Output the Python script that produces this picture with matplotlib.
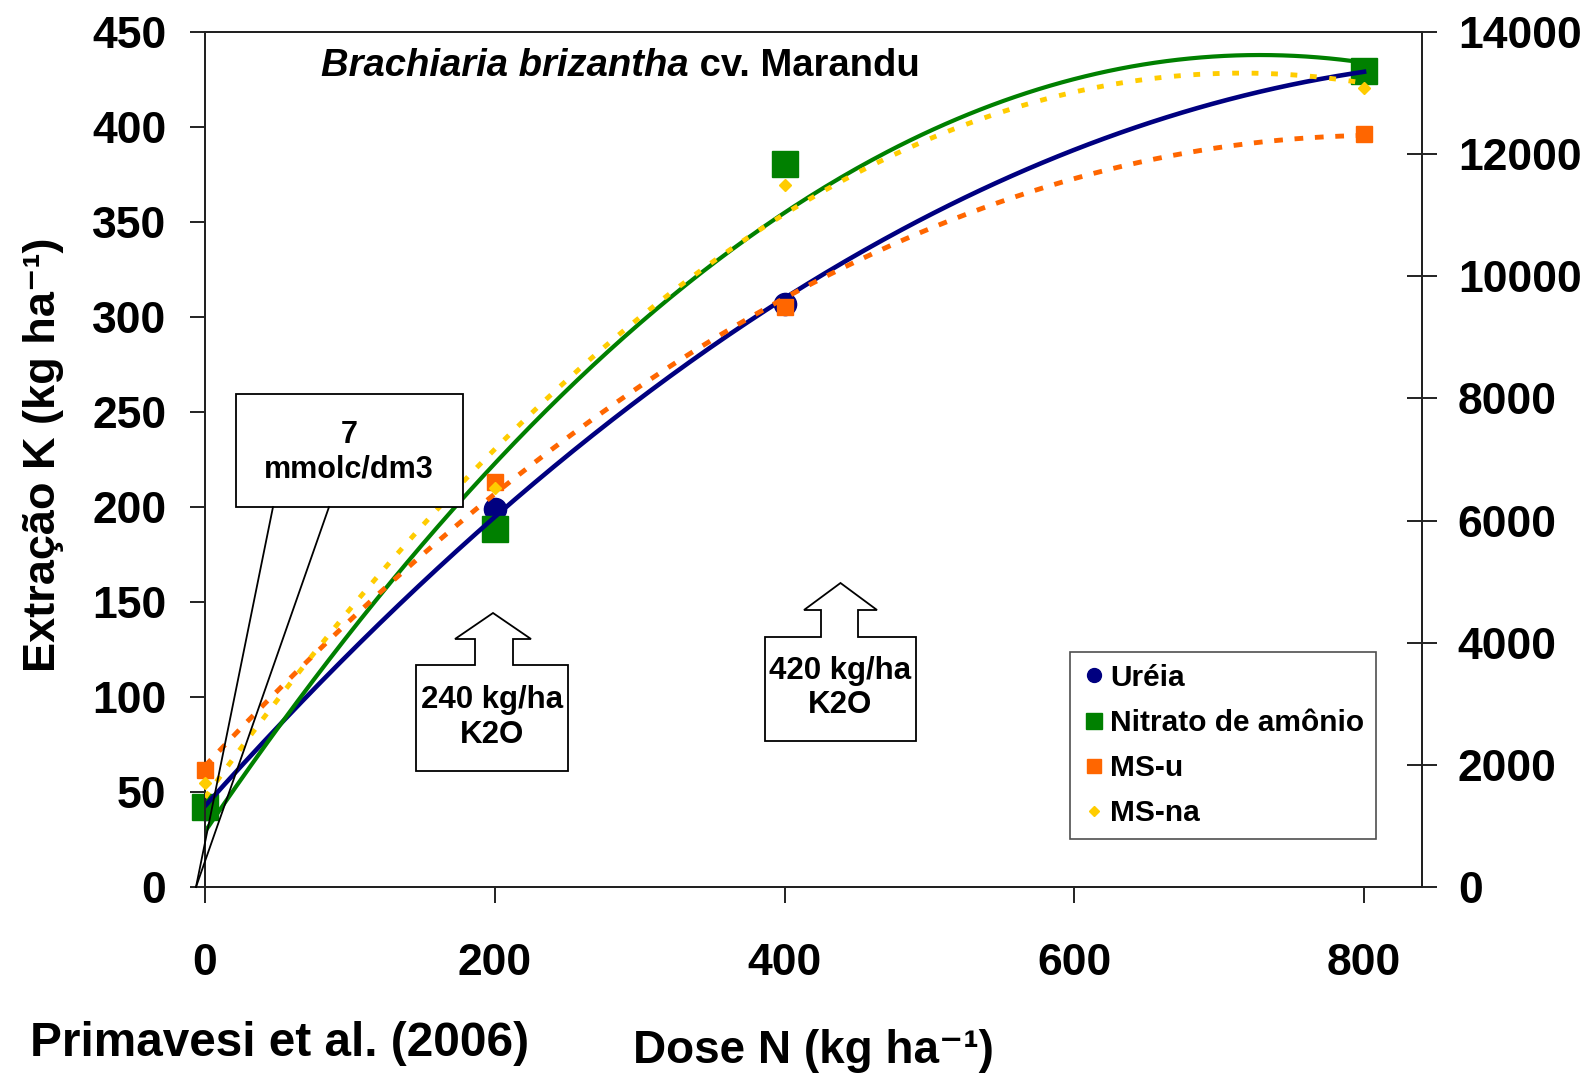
import numpy as np
import matplotlib
matplotlib.use("Agg")
import matplotlib.pyplot as plt
from matplotlib.lines import Line2D
from matplotlib.patches import Polygon

# ---------------- data ----------------
dose = [0, 200, 400, 800]
ureia = [41, 199, 306.7, 429.6]          # Extração K (kg/ha) - left axis
nitrato = [42, 188.6, 380.6, 429.6]      # Extração K (kg/ha) - left axis
ms_u = [1908, 6631, 9497, 12330]         # MS (kg/ha) - right axis
ms_na = [1703, 6533, 11495, 13083]       # MS (kg/ha) - right axis

xticks = [0, 200, 400, 600, 800]
yticks_left = [0, 50, 100, 150, 200, 250, 300, 350, 400, 450]
yticks_right = [0, 2000, 4000, 6000, 8000, 10000, 12000, 14000]

series_names = ["Uréia", "Nitrato de amônio", "MS-u", "MS-na"]

# ---------------- style ----------------
W, H = 1585, 1074
plt.rcParams['font.family'] = ['Liberation Sans', 'DejaVu Sans']
plt.rcParams['font.weight'] = 'bold'

c_blue = '#000080'
c_green = '#008000'
c_orange = '#FF6600'
c_yellow = '#FFCC00'
c_axis = '#222222'

fig = plt.figure(figsize=(W / 100, H / 100), dpi=100)
L, R, T, B = 205, 1422, 32, 887
ax = fig.add_axes([L / W, 1 - B / H, (R - L) / W, (B - T) / H])
ax2 = ax.twinx()


def px(x, y):
    return (x / W, 1 - y / H)


# trendlines (2nd order polynomial fits, as in the source)
xs = np.linspace(0, 800, 300)

ax.plot(dose, ureia, 'o', color=c_blue, markersize=16, zorder=3, clip_on=False)
ax.plot(dose, nitrato, 's', color=c_green, markersize=19, zorder=3, clip_on=False)
ax.plot(xs, np.polyval(np.polyfit(dose, ureia, 2), xs), '-', color=c_blue, lw=3.3, zorder=4)
ax.plot(xs, np.polyval(np.polyfit(dose, nitrato, 2), xs), '-', color=c_green, lw=3.0, zorder=4)

ax2.plot(dose, ms_u, 's', color=c_orange, markersize=12, zorder=3, clip_on=False)
ax2.plot(dose, ms_na, 'D', color=c_yellow, markersize=6.5, zorder=3, clip_on=False)
ax2.plot(xs, np.polyval(np.polyfit(dose, ms_u, 2), xs), color=c_orange, lw=3.5,
         linestyle=(0, (1.8, 2.4)), zorder=4)
ax2.plot(xs, np.polyval(np.polyfit(dose, ms_na, 2), xs), color=c_yellow, lw=3.5,
         linestyle=(0, (1.4, 2.6)), zorder=4)

ax.set_xlim(0, 840)
ax.set_ylim(0, 450)
ax2.set_ylim(0, 14000)

ax.set_xticks(xticks)
ax.set_yticks(yticks_left)
ax2.set_yticks(yticks_right)
ax.set_xticklabels([str(v) for v in xticks])
ax.set_yticklabels([str(v) for v in yticks_left])
ax2.set_yticklabels([str(v) for v in yticks_right])

for a in (ax, ax2):
    for s in a.spines.values():
        s.set_linewidth(1.4)
        s.set_color(c_axis)

ax.tick_params(axis='y', direction='out', length=10.8, width=1.4, color=c_axis,
               labelsize=32, pad=17)
ax.tick_params(axis='x', direction='out', length=11.5, width=1.4, color=c_axis,
               labelsize=32, pad=29)
ax2.tick_params(axis='y', direction='inout', length=21.6, width=1.4, color=c_axis,
                labelsize=32, pad=15)
for lab in ax.get_xticklabels() + ax.get_yticklabels() + ax2.get_yticklabels():
    lab.set_fontweight('bold')

ax.set_xlabel("Dose N (kg ha\u207b\u00b9)", fontsize=33, fontweight='bold')
ax.xaxis.set_label_coords(0.5, (B - 1051) / (B - T))
ax.xaxis.label.set_va('center')
ax.set_ylabel("Extração K (kg ha\u207b\u00b9)", fontsize=32.5, fontweight='bold')
ax.yaxis.set_label_coords((44 - L) / (R - L), (B - 455) / (B - T))
ax.yaxis.label.set_va('center')

# title inside the plot
t1 = fig.text(*px(321, 66), "Brachiaria brizantha", fontsize=27.5, fontweight='bold',
              fontstyle='italic', ha='left', va='center')
ax.annotate(" cv. Marandu", xy=(1, 0.5), xycoords=t1, ha='left', va='center',
            fontsize=27.5, fontweight='bold', annotation_clip=False)

fig.text(*px(30, 1044), "Primavesi et al. (2006)", fontsize=34.4, fontweight='bold',
         ha='left', va='center')

# legend
handles = [
    Line2D([], [], marker='o', color=c_blue, linestyle='none', markersize=10),
    Line2D([], [], marker='s', color=c_green, linestyle='none', markersize=11),
    Line2D([], [], marker='s', color=c_orange, linestyle='none', markersize=10),
    Line2D([], [], marker='D', color=c_yellow, linestyle='none', markersize=5),
]
leg = ax2.legend(handles, series_names, loc='upper left',
                 bbox_to_anchor=px(1070, 652), bbox_transform=fig.transFigure,
                 fontsize=21.5, frameon=True, fancybox=False, edgecolor='#222222',
                 handlelength=0.8, handletextpad=0.15, borderpad=0.4,
                 labelspacing=0.57, borderaxespad=0)
leg.get_frame().set_linewidth(1.2)
for t in leg.get_texts():
    t.set_fontweight('bold')

# callouts (figure pixel geometry)
def poly(pts, fill=True):
    p = Polygon([px(x, y) for x, y in pts], closed=True, transform=fig.transFigure,
                facecolor='white' if fill else 'none', edgecolor='black', lw=1.3,
                zorder=5)
    fig.add_artist(p)

# "7 mmolc/dm3" callout: box + wedge lines
poly([(236, 394), (463, 394), (463, 507), (236, 507)])
for bx in (273, 329):
    fig.add_artist(Line2D([px(bx, 507)[0], px(196, 887)[0]],
                          [px(bx, 507)[1], px(196, 887)[1]],
                          transform=fig.transFigure, color='black', lw=1.3, zorder=5))
fig.text(*px(349, 435), "7", fontsize=22, fontweight='bold', ha='center', va='center', zorder=6)
fig.text(*px(349, 470), "mmolc/dm3", fontsize=22, fontweight='bold', ha='center', va='center', zorder=6)

def up_arrow_box(x0, x1, ytop, ybot, sx0, sx1, hx0, hx1, hy, tipy):
    cx = (hx0 + hx1) / 2
    poly([(x0, ybot), (x1, ybot), (x1, ytop), (sx1, ytop), (sx1, hy), (hx1, hy),
          (cx, tipy), (hx0, hy), (sx0, hy), (sx0, ytop), (x0, ytop)])

up_arrow_box(416, 568, 665, 771, 475, 513, 455, 531, 639, 613)
fig.text(*px(492, 700), "240 kg/ha", fontsize=22.5, fontweight='bold', ha='center', va='center', zorder=6)
fig.text(*px(492, 735), "K2O", fontsize=22.5, fontweight='bold', ha='center', va='center', zorder=6)

up_arrow_box(765, 916, 637, 741, 821, 858, 804, 877, 610, 583)
fig.text(*px(840, 671), "420 kg/ha", fontsize=22.5, fontweight='bold', ha='center', va='center', zorder=6)
fig.text(*px(840, 705), "K2O", fontsize=22.5, fontweight='bold', ha='center', va='center', zorder=6)

fig.savefig("out.png", dpi=100)
